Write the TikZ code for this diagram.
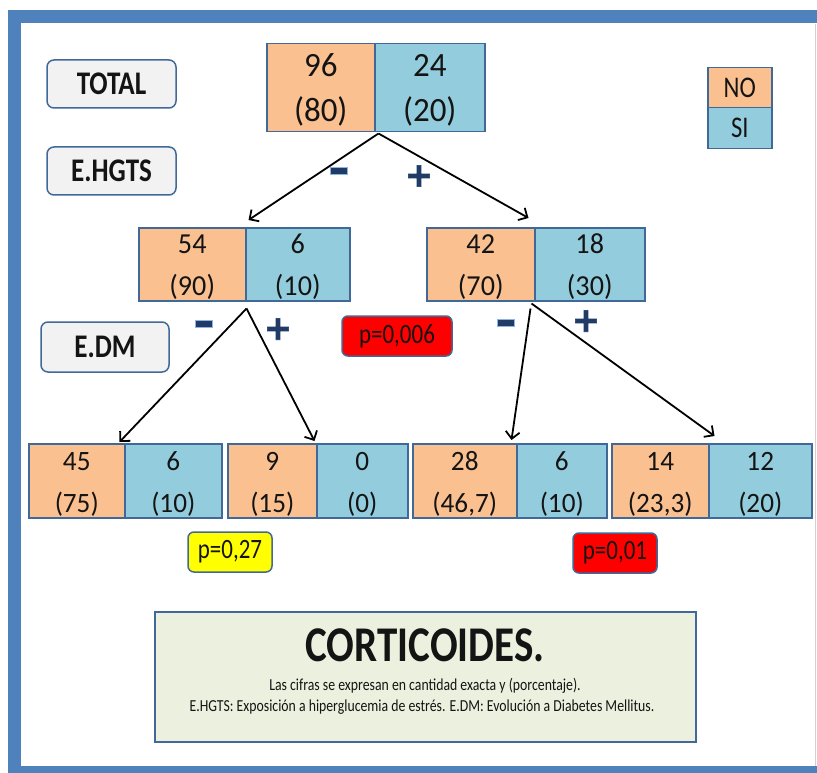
\documentclass[tikz,border=0pt]{standalone}
\usepackage{fontspec}
\setmainfont[FakeStretch=0.82]{Carlito}
\newfontfamily\numfont[FakeStretch=0.97]{Carlito}
\newfontfamily\signfont[FakeBold=2]{DejaVu Sans}
\usetikzlibrary{arrows.meta}

\definecolor{frameblue}{RGB}{79,129,189}
\definecolor{edgeblue}{RGB}{64,104,152}
\definecolor{cellno}{RGB}{250,192,144}
\definecolor{cellsi}{RGB}{147,205,221}
\definecolor{labelgrey}{RGB}{242,242,242}
\definecolor{notegreen}{RGB}{235,241,222}
\definecolor{signblue}{RGB}{31,59,102}
\definecolor{signglow}{RGB}{141,180,226}
\definecolor{pred}{RGB}{255,0,0}
\definecolor{pyellow}{RGB}{255,255,0}
\definecolor{ink}{RGB}{20,20,20}

\tikzset{
  cell/.style={draw=edgeblue, line width=1.5pt, anchor=north west, inner sep=0pt,
    align=center, text depth=0pt, text=ink},
  nocell/.style={cell, fill=cellno},
  sicell/.style={cell, fill=cellsi},
  lvtop/.style={minimum height=88pt, text height=67pt, font=\fontsize{34}{45}\numfont},
  lvmid/.style={minimum height=73pt, text height=61.5pt, font=\fontsize{29}{42}\numfont},
  lvlow/.style={minimum height=74pt, text height=63.5pt, font=\fontsize{28}{42}\numfont},
  legcell/.style={draw=edgeblue, line width=1.5pt, anchor=north west, inner sep=0pt,
    minimum width=64pt, font=\fontsize{30}{30}\selectfont, text=ink},
  stage/.style={draw=edgeblue, line width=1.5pt, fill=labelgrey, rounded corners=7pt,
    minimum width=129pt, minimum height=48pt, inner sep=0pt,
    font=\fontsize{33}{33}\selectfont\bfseries, text=ink},
  pbox/.style={draw=edgeblue, line width=1.5pt, rounded corners=6pt, minimum height=40pt,
    inner sep=0pt, font=\fontsize{28}{28}\selectfont, text=ink},
  minus/.style={fill=signblue, draw=signglow, line width=0.8pt, minimum width=17pt,
    minimum height=7pt, inner sep=0pt},
  plus/.style={text=signblue, inner sep=0pt, font=\fontsize{34}{34}\signfont\bfseries},
  arr/.style={draw=black, line width=1.8pt, -{Straight Barb[length=7pt,width=14pt]}},
}

\begin{document}
\begin{tikzpicture}[x=1pt,y=-1pt]
\useasboundingbox (0,0) rectangle (817,773);
\clip (0,0) rectangle (817,773);

% page frame
\fill[white] (0,0) rectangle (817,773);
\draw[frameblue, line width=13pt] (14.5,17) rectangle (823.5,772.5);
\draw[gray!35, line width=1pt] (815.5,24) -- (815.5,766);

% stage labels
\node[stage] (total) at (111.5,84) {TOTAL};
\node[stage] (ehgts) at (111.5,171) {E.HGTS};
\node[stage, minimum width=128pt, minimum height=50pt] (edm) at (105,347) {E.DM};

% legend
\node[legcell, fill=cellno, minimum height=40pt] (legno) at (707,67) {NO};
\node[legcell, fill=cellsi, minimum height=41pt] (legsi) at (707,107) {SI};

% total
\node[nocell, lvtop, minimum width=108pt] (t0n) at (266,43) {96\\(80)};
\node[sicell, lvtop, minimum width=110pt] (t0s) at (374,43) {24\\(20)};

% split by E.HGTS
\node[nocell, lvmid, minimum width=107pt] (l1n) at (138,227) {54\\(90)};
\node[sicell, lvmid, minimum width=104pt] (l1s) at (245,227) {6\\(10)};
\node[nocell, lvmid, minimum width=108pt] (r1n) at (426,227) {42\\(70)};
\node[sicell, lvmid, minimum width=110pt] (r1s) at (534,227) {18\\(30)};

% split by E.DM
\node[nocell, lvlow, minimum width=96pt]  (an) at (28,443)  {45\\(75)};
\node[sicell, lvlow, minimum width=97pt]  (as) at (124,443) {6\\(10)};
\node[nocell, lvlow, minimum width=89pt]  (bn) at (227,443) {9\\(15)};
\node[sicell, lvlow, minimum width=91pt]  (bs) at (316,443) {0\\(0)};
\node[nocell, lvlow, minimum width=104pt] (cn) at (412,443) {28\\(46,7)};
\node[sicell, lvlow, minimum width=90pt]  (cs) at (516,443) {6\\(10)};
\node[nocell, lvlow, minimum width=97pt]  (dn) at (611,443) {14\\(23,3)};
\node[sicell, lvlow, minimum width=103pt] (ds) at (708,443) {12\\(20)};

% p-values
\node[pbox, fill=pred, minimum width=110pt] (p1) at (397,336) {p=0,006};
\node[pbox, fill=pyellow, minimum width=84pt] (p2) at (230,552) {p=0,27};
\node[pbox, fill=pred, minimum width=84pt] (p3) at (615,553) {p=0,01};

% connectors
\draw[arr] ([shift={(3pt,-1pt)}]t0n.south east) -- ([shift={(2pt,7pt)}]l1n.north east);
\draw[arr] ([shift={(3pt,-1pt)}]t0n.south east) -- ([shift={(-7pt,9pt)}]r1n.north east);
\draw[arr] ([shift={(0pt,-7pt)}]l1n.south east) -- ([shift={(-6pt,1pt)}]an.north east);
\draw[arr] ([shift={(0pt,-7pt)}]l1n.south east) -- ([shift={(-3pt,2pt)}]bn.north east);
\draw[arr] ([shift={(-5pt,-7pt)}]r1n.south east) -- ([shift={(-6pt,3pt)}]cn.north east);
\draw[arr] ([shift={(-4pt,-2pt)}]r1n.south east) -- ([shift={(5pt,7pt)}]dn.north east);

% branch signs
\node[minus] (m1) at (338.5,171) {};
\node[plus]  (a1) at (419,176) {+};
\node[minus] (m2) at (204,324) {};
\node[plus]  (a2) at (278,329) {+};
\node[minus] (m3) at (506,323) {};
\node[plus]  (a3) at (586,321) {+};

% caption
\node[draw=edgeblue, line width=1.8pt, fill=notegreen, minimum width=541pt,
      minimum height=130pt, inner sep=0pt] (note) at (425.5,677) {};
\node[font=\fontsize{50}{50}\selectfont\bfseries, text=ink, inner sep=0pt] (title) at (425,645) {CORTICOIDES.};
\node[font=\fontsize{16.8}{16.8}\selectfont, text=ink, inner sep=0pt] (cap1) at (425,686)
  {Las cifras se expresan en cantidad exacta y (porcentaje).};
\node[font=\fontsize{16.8}{16.8}\selectfont, text=ink, inner sep=0pt] (cap2) at (422,707)
  {E.HGTS: Exposición a hiperglucemia de estrés. E.DM: Evolución a Diabetes Mellitus.};
\end{tikzpicture}
\end{document}
